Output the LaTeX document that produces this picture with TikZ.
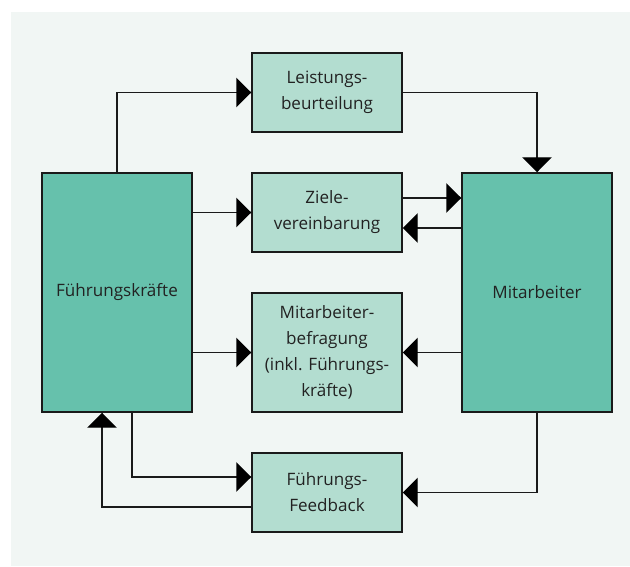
\documentclass[tikz,border=0pt]{standalone}
\usepackage{fontspec}
\setmainfont{Open Sans}
\usetikzlibrary{arrows.meta,calc}
\definecolor{bgc}{HTML}{F1F6F4}
\definecolor{bigc}{HTML}{66C1AC}
\definecolor{smallc}{HTML}{B3DDD0}
\definecolor{linec}{HTML}{1A1A1A}
\definecolor{txtc}{HTML}{222222}
\tikzset{
  base/.style={draw=linec, line width=1.1pt, inner sep=0pt, align=center, text=txtc,
    font=\fontsize{12.8}{19.5}\selectfont, minimum width=112.5pt},
  bigbox/.style={base, fill=bigc, minimum height=179.25pt},
  smallbox/.style={base, fill=smallc, minimum height=59.25pt},
  tallbox/.style={base, fill=smallc, minimum height=89.25pt},
  conn/.style={draw=linec, line width=1.1pt},
  arr/.style={conn, -{Triangle[length=11.25pt, width=22pt, fill=black, color=black]}}
}
\begin{document}
\begin{tikzpicture}[x=0.75pt, y=-0.75pt]
\useasboundingbox (0,0) rectangle (630,566);
\fill[bgc] (11,12) rectangle (630,566);

\node[bigbox] (FK) at (117,292.5) {Führungskräfte};
\node[bigbox] (MA) at (537,292.5) {Mitarbeiter};
\node[smallbox] (LB) at (327,92.5) {Leistungs-\\beurteilung};
\node[smallbox] (ZV) at (327,212.5) {Ziele-\\vereinbarung};
\node[tallbox] (MB) at (327,352.5) {Mitarbeiter-\\befragung\\(inkl. Führungs-\\kräfte)};
\node[smallbox] (FF) at (327,492.5) {Führungs-\\Feedback};

% Leistungsbeurteilung
\draw[arr] (FK.north) |- (LB.west);
\draw[arr] (LB.east) -| (MA.north);

% Zielevereinbarung
\draw[arr] (FK.east |- ZV.west) -- (ZV.west);
\coordinate (zvout) at ($(ZV.east)+(0,-14.5)$);
\coordinate (zvin) at ($(ZV.east)+(0,15.5)$);
\draw[arr] (zvout) -- (MA.west |- zvout);
\draw[arr] (MA.west |- zvin) -- (zvin);

% Mitarbeiterbefragung
\draw[arr] (FK.east |- MB.west) -- (MB.west);
\draw[arr] (MA.west |- MB.east) -- (MB.east);

% Fuehrungs-Feedback
\coordinate (fkout) at ($(FK.south)+(15,0)$);
\coordinate (fkin) at ($(FK.south)+(-15,0)$);
\coordinate (ffin) at ($(FF.west)+(0,-15.5)$);
\coordinate (ffout) at ($(FF.west)+(0,14.5)$);
\draw[arr] (fkout) |- (ffin);
\draw[arr] (ffout) -| (fkin);
\draw[arr] (MA.south) |- (FF.east);
\end{tikzpicture}
\end{document}
